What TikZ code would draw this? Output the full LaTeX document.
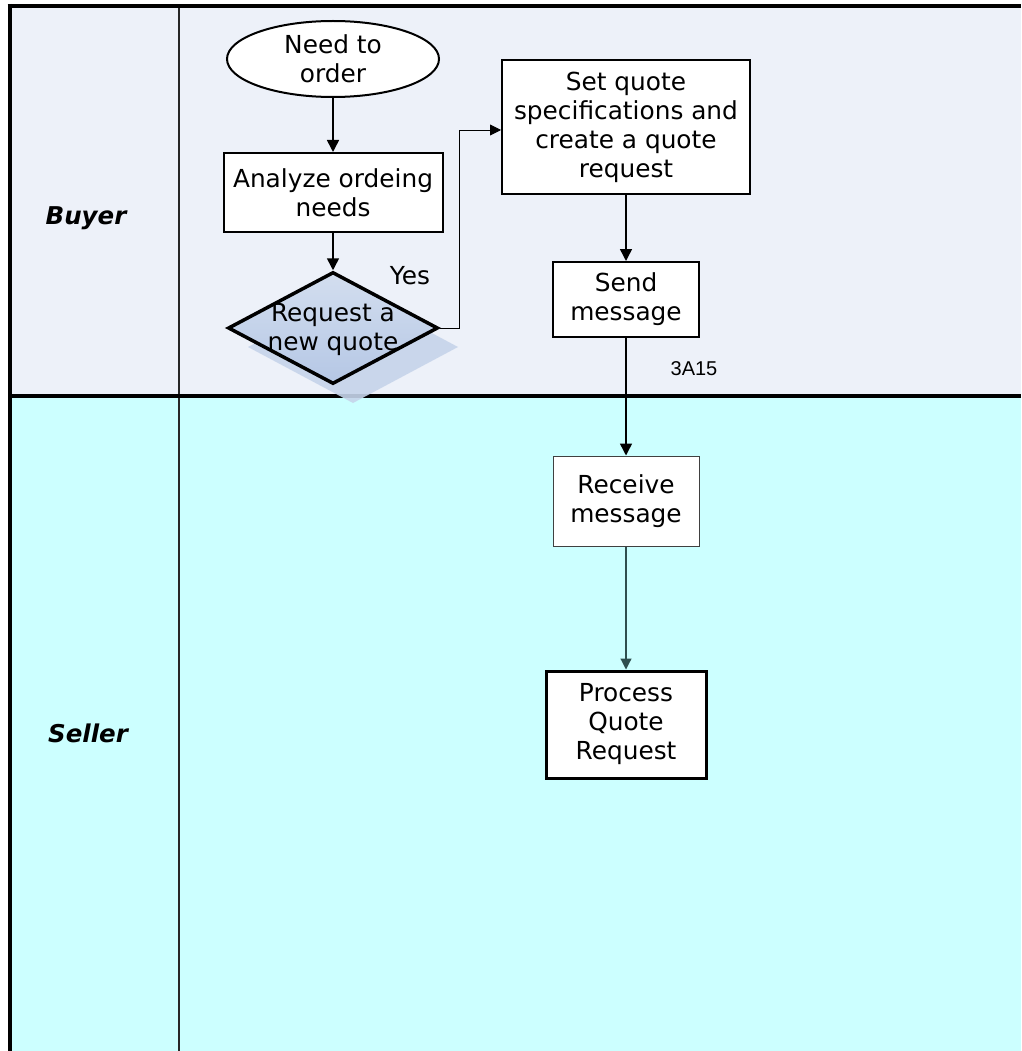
\documentclass[tikz,border=0pt]{standalone}
\usepackage{fontspec}
\setmainfont{DejaVu Sans}
\newfontfamily\arialfont{Liberation Sans}
\usetikzlibrary{shapes.geometric,arrows.meta}
\definecolor{buyerbg}{HTML}{EDF1F9}
\definecolor{sellerbg}{HTML}{CCFFFF}
\definecolor{diafillA}{HTML}{D3DEEF}
\definecolor{diafillB}{HTML}{B5C7E5}
\definecolor{shadowc}{HTML}{C6D4EA}
\definecolor{tealline}{HTML}{2F4F4F}
\tikzset{
  txt/.style={font=\fontsize{24.8}{29}\selectfont, align=center, text=black},
  procbox/.style={txt, draw=black, fill=white, rectangle, line width=2pt, inner sep=0pt},
  conn/.style={line width=1.5pt, -{Triangle[length=12pt,width=12pt]}},
  thinconn/.style={line width=0.9pt, -{Triangle[length=11pt,width=11pt]}},
  lanelabel/.style={font=\fontsize{24.5}{28}\selectfont\bfseries\itshape, text=black}
}
\begin{document}
\begin{tikzpicture}[x=1pt,y=-1pt]
\useasboundingbox (0,0) rectangle (1021,1051);
% lanes
\fill[buyerbg] (10,6) rectangle (1021,396);
\fill[sellerbg] (10,396) rectangle (1021,1051);
\draw[line width=1.2pt, black!85] (179,6) -- (179,1051);
\draw[line width=4pt] (7.5,6) -- (1021,6);
\draw[line width=4pt] (9.5,4) -- (9.5,1051);
\draw[line width=4pt] (8,396) -- (1021,396);
% lane labels
\node[lanelabel] (buyer) at (86,218) {Buyer};
\node[lanelabel] (seller) at (88,733) {Seller};
% shapes
\node[txt, ellipse, draw=black, fill=white, line width=2pt, minimum width=212pt, minimum height=76pt, inner sep=0pt] (start) at (333,59) {Need to\\order};
\node[procbox, minimum width=219pt, minimum height=79pt] (analyze) at (333,192.5) {Analyze ordeing\\needs};
% decision shadow
\fill[shadowc, opacity=0.9] (248,347) -- (353,291) -- (458,347) -- (353,403) -- cycle;
\node[diamond, draw=black, line width=3.5pt, top color=diafillA, bottom color=diafillB, minimum width=210pt, minimum height=112pt, inner sep=0pt] (dec) at (333,328) {};
\node[txt] (dectext) at (333,330) {Request a\\new quote};
\node[txt] (yes) at (410,276) {Yes};
\node[procbox, minimum width=248pt, minimum height=134pt] (setq) at (626,127) {Set quote\\specifications and\\create a quote\\request};
\node[procbox, minimum width=146pt, minimum height=75pt] (send) at (626,299.5) {Send\\message};
\node[procbox, draw=black!75, line width=1pt, minimum width=146pt, minimum height=90pt] (recv) at (626,501) {Receive\\message};
\node[procbox, line width=3pt, minimum width=160pt, minimum height=107pt] (proc) at (626,724.5) {Process\\Quote\\Request};
\node[font=\arialfont\fontsize{20}{24}\selectfont] (code) at (694,369) {3A15};
% connectors
\coordinate (yesx) at (459,130);
\draw[conn] (start.south) -- (analyze.north);
\draw[conn] (analyze.south) -- (dec.north);
\draw[thinconn] (dec.east) -| (yesx) -- (setq.west |- yesx);
\draw[conn] (setq.south) -- (send.north);
\draw[conn] (send.south) -- (recv.north);
\draw[thinconn, tealline, line width=1.2pt] (recv.south) -- (proc.north);
\end{tikzpicture}
\end{document}
